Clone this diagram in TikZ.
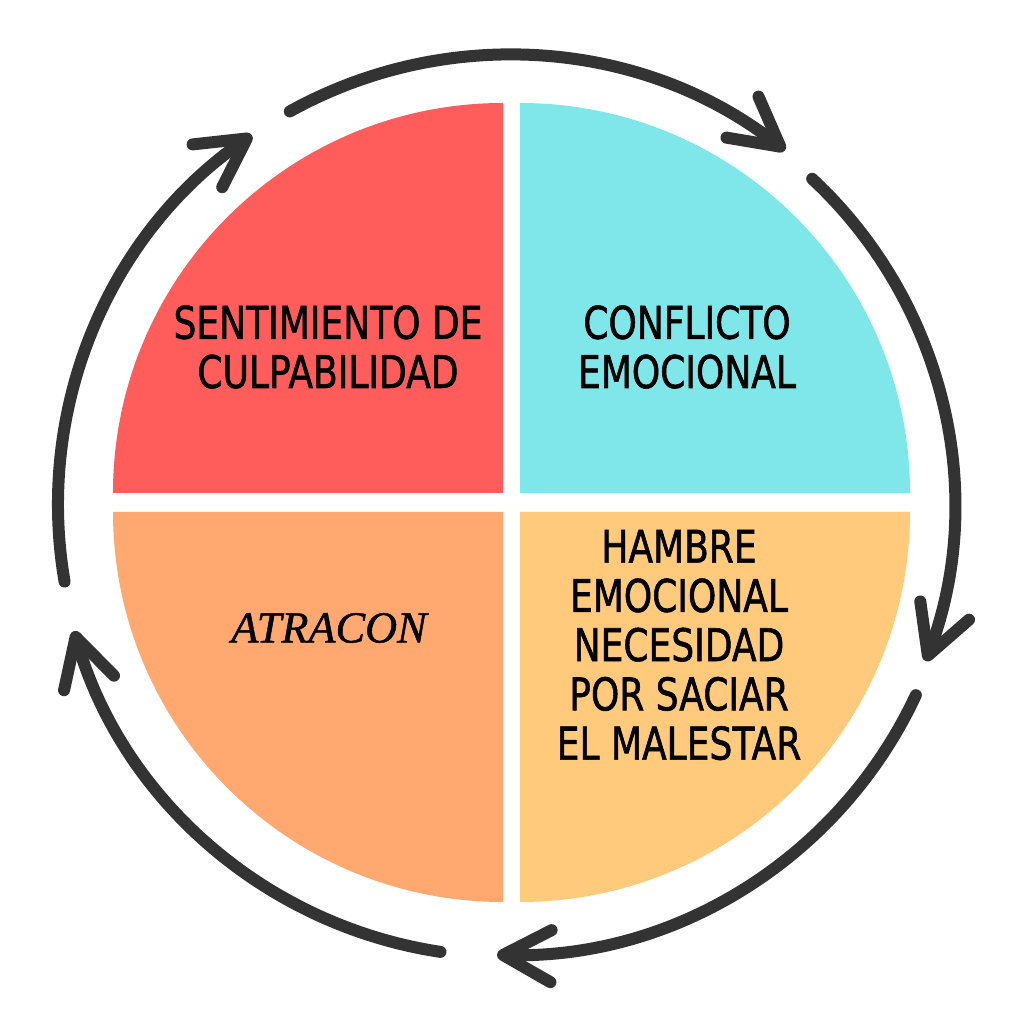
\documentclass[tikz,border=0pt]{standalone}
\usepackage{fontspec}
\usetikzlibrary{arrows.meta}
\newfontfamily\handfont[FakeStretch=0.80, FakeBold=1.2]{DejaVu Sans}
\newfontfamily\atrfont[FakeBold=1]{Liberation Serif}
\definecolor{guiltred}{HTML}{FF5C5C}
\definecolor{conflictcyan}{HTML}{7FE7EA}
\definecolor{bingeorange}{HTML}{FFA970}
\definecolor{hungeryellow}{HTML}{FFCA7B}
\definecolor{cycledark}{HTML}{333333}

\begin{document}
\begin{tikzpicture}[x = 0.01cm, y = 0.01cm,
  label text/.style = {align = center, font = \handfont\fontsize{12.8}{14}\selectfont},
  cycle arrow/.style = {line width = 1.2mm, color = cycledark, line cap = round,
    -{Straight Barb[length = 4.8mm, width = 5.2mm, round]}}]
\useasboundingbox (0, 0) rectangle (1024, 1024);
%\draw[very thin, color = gray](0, 0) grid[step = 100] (1024, 1024);
% the four quarters
\fill [guiltred] (503, 531) -- (113, 531) arc[start angle = 180, end angle = 90, radius = 390] -- cycle;
\fill [conflictcyan] (520, 531) -- (520, 921) arc[start angle = 90, end angle = 0, radius = 390] -- cycle;
\fill [bingeorange] (503, 512) -- (503, 122) arc[start angle = 270, end angle = 180, radius = 390] -- cycle;
\fill [hungeryellow] (520, 512) -- (910, 512) arc[start angle = 0, end angle = -90, radius = 390] -- cycle;
\node [label text] (guilt) at (328, 677) {SENTIMIENTO DE\\CULPABILIDAD};
\node [label text] (conflict) at (687, 677) {CONFLICTO\\EMOCIONAL};
\node [font = \atrfont\itshape\fontsize{12.6}{14}\selectfont] (binge) at (329, 396) {ATRACON};
\node [label text] (hunger) at (679, 379) {HAMBRE\\EMOCIONAL\\NECESIDAD\\POR SACIAR\\EL MALESTAR};
% arrows round the circle
\begin{scope}[shift = {(508, 519)}]
\draw [cycle arrow] (119:450) arc[start angle = 119, end angle = 52, radius = 450];
\draw [cycle arrow] (47:446) arc[start angle = 47, end angle = -20.5, radius = 446];
\draw [cycle arrow] (-25:450) arc[start angle = -25, end angle = -91.4, radius = 450];
\draw [cycle arrow] (261.4:452) arc[start angle = 261.4, end angle = 196.2, radius = 452];
\draw [cycle arrow] (189.8:450) arc[start angle = 189.8, end angle = 124.7, radius = 450];
\end{scope}
\end{tikzpicture}
\end{document}
